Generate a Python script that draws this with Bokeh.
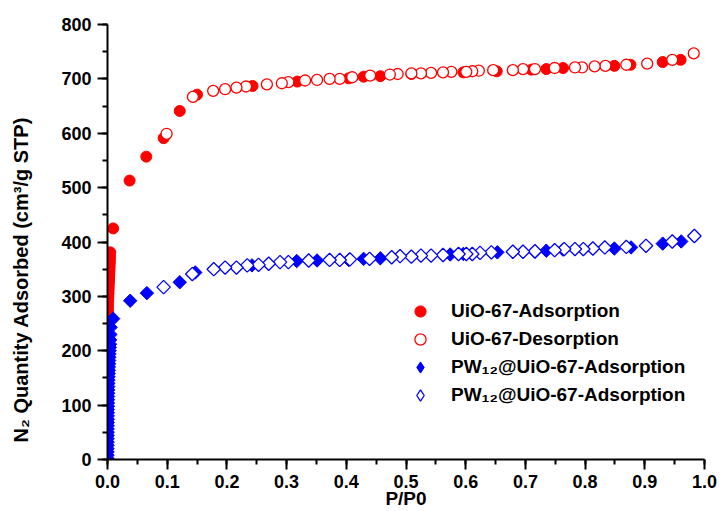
import numpy as np
from bokeh.plotting import figure
from bokeh.models import (Range1d, SingleIntervalTicker, PrintfTickFormatter,
                          Legend, LegendItem, Title)
from bokeh.embed import file_html
from bokeh.resources import INLINE

# ---------------- data ----------------
uio_ads_x = [0.0001, 0.0002, 0.0003, 0.0004, 0.0005, 0.0006, 0.0007, 0.0008,
             0.0009, 0.0010, 0.0012, 0.0014, 0.0016, 0.0018, 0.0020, 0.0022,
             0.0024, 0.0026, 0.0028, 0.0030, 0.0032, 0.0034, 0.0036, 0.0038,
             0.0040, 0.0043, 0.0046, 0.0095, 0.037, 0.065, 0.094,
             0.121, 0.150, 0.243, 0.318, 0.404, 0.429, 0.457, 0.509, 0.596,
             0.652, 0.710, 0.735, 0.763, 0.849, 0.876, 0.930, 0.960]
uio_ads_y = [200, 215, 228, 240, 250, 258, 266, 273,
             280, 287, 293, 299, 305, 311, 316, 322,
             327, 332, 337, 342, 347, 352, 357, 362,
             367, 373, 381, 425, 513, 557, 591,
             641, 671, 687, 695, 701, 704, 705, 709, 712,
             714, 717, 718, 720, 724, 726, 731, 735]

uio_des_x = [0.982, 0.946, 0.904, 0.869, 0.834, 0.816, 0.795, 0.783, 0.749,
             0.716, 0.696, 0.679, 0.646, 0.622, 0.611, 0.601, 0.576, 0.562,
             0.542, 0.525, 0.509, 0.486, 0.473, 0.440, 0.410, 0.389, 0.372,
             0.351, 0.331, 0.303, 0.292, 0.267, 0.232, 0.216, 0.197, 0.177,
             0.143, 0.099]
uio_des_y = [747, 735, 728, 726, 724, 723, 721, 721, 720,
             718, 718, 716, 716, 715, 714, 713, 713, 712,
             711, 710, 710, 709, 708, 706, 703, 700, 700,
             698, 697, 694, 692, 690, 686, 684, 681, 678,
             667, 599]

pw_ads_x = [0.0000, 0.0000, 0.0001, 0.0001, 0.0001, 0.0002, 0.0002, 0.0002,
            0.0003, 0.0003, 0.0004, 0.0004, 0.0005, 0.0005, 0.0006, 0.0006,
            0.0007, 0.0008, 0.0009, 0.0010, 0.0011, 0.0012, 0.0013, 0.0014,
            0.0016, 0.0018, 0.0020, 0.0022, 0.0024, 0.0026, 0.0028, 0.0030,
            0.0033, 0.0036, 0.0039, 0.0042, 0.0045, 0.0048, 0.0052,
            0.0095, 0.038, 0.066, 0.121, 0.147,
            0.242, 0.317, 0.351, 0.404, 0.429, 0.457, 0.574, 0.596, 0.653,
            0.716, 0.735, 0.763, 0.849, 0.877, 0.930, 0.961]
pw_ads_y = [2, 8, 14, 20, 26, 32, 38, 44,
            50, 56, 62, 68, 74, 80, 86, 92,
            98, 104, 110, 116, 122, 128, 134, 140,
            146, 152, 158, 164, 170, 176, 182, 188,
            194, 200, 206, 212, 220, 230, 243,
            259, 292, 306, 326, 344,
            357, 365, 366, 367, 369, 370, 377, 378, 381,
            382, 384, 386, 388, 390, 397, 401]

pw_des_x = [0.983, 0.946, 0.902, 0.869, 0.833, 0.813, 0.797, 0.783, 0.765,
            0.749, 0.716, 0.696, 0.679, 0.643, 0.624, 0.611, 0.601, 0.588,
            0.562, 0.542, 0.525, 0.509, 0.490, 0.476, 0.439, 0.406, 0.389,
            0.372, 0.337, 0.303, 0.289, 0.270, 0.253, 0.234, 0.216, 0.197,
            0.178, 0.142, 0.094]
pw_des_y = [411, 401, 393, 391, 390, 388, 387, 387, 387,
            385, 383, 382, 382, 381, 380, 378, 378, 378,
            376, 375, 375, 373, 374, 372, 369, 368, 367,
            367, 366, 363, 363, 360, 358, 357, 353, 353,
            350, 341, 317]

series_labels = ["UiO-67-Adsorption", "UiO-67-Desorption",
                 "PW\u2081\u2082@UiO-67-Adsorption", "PW\u2081\u2082@UiO-67-Adsorption"]
x_title = "P/P0"
y_title = "N\u2082 Quantity Adsorbed (cm\u00b3/g STP)"
x_tick_interval = 0.1
y_tick_interval = 100

RED = "#FF0000"
BLUE = "#0000FF"
FONT = "Liberation Sans"

p = figure(width=721, height=511, output_backend="svg", toolbar_location=None,
           x_range=Range1d(0, 1), y_range=Range1d(0, 800),
           min_border_left=107, min_border_right=17,
           min_border_top=24, min_border_bottom=52)
p.outline_line_color = None
p.xgrid.visible = False
p.ygrid.visible = False
p.background_fill_color = "white"
p.border_fill_color = "white"

p.xaxis.ticker = SingleIntervalTicker(interval=x_tick_interval, num_minor_ticks=2)
p.yaxis.ticker = SingleIntervalTicker(interval=y_tick_interval, num_minor_ticks=2)
p.xaxis.formatter = PrintfTickFormatter(format="%.1f")

for ax in (p.xaxis, p.yaxis):
    ax.axis_line_width = 2
    ax.axis_line_color = "black"
    ax.major_tick_line_width = 2
    ax.minor_tick_line_width = 2
    ax.major_tick_line_color = "black"
    ax.minor_tick_line_color = "black"
    ax.major_tick_out = 10
    ax.major_tick_in = 0
    ax.minor_tick_out = 5
    ax.minor_tick_in = 0
    ax.major_label_text_font = FONT
    ax.major_label_text_font_style = "bold"
    ax.major_label_text_font_size = "18px"
    ax.major_label_text_color = "black"

p.xaxis.major_label_standoff = 5
p.yaxis.major_label_standoff = 6
p.xaxis.axis_label = x_title
p.xaxis.axis_label_text_font = FONT
p.xaxis.axis_label_text_font_style = "bold"
p.xaxis.axis_label_text_font_size = "19px"
p.xaxis.axis_label_text_color = "black"
p.xaxis.axis_label_standoff = -3

# blank y-axis label only reserves room so the side title sits near the left edge
p.yaxis.axis_label = " "
p.yaxis.axis_label_text_font_size = "19px"
p.yaxis.axis_label_standoff = 3

# y title: a side-panel title, anchored near the bottom of the frame as in the reference
p.add_layout(Title(text=y_title, align="left", offset=17, standoff=0,
                   text_font=FONT, text_font_style="bold", text_font_size="20px",
                   text_color="black"), "left")

r1 = p.scatter(uio_ads_x, uio_ads_y, marker="circle", size=11,
               fill_color=RED, line_color=RED, line_width=1)
r2 = p.scatter(uio_des_x, uio_des_y, marker="circle", size=11,
               fill_color="white", line_color=RED, line_width=1.3)
r3 = p.scatter(pw_ads_x, pw_ads_y, marker="square", angle=np.pi / 4, size=9.5,
               fill_color=BLUE, line_color=BLUE, line_width=1)
r4 = p.scatter(pw_des_x, pw_des_y, marker="square", angle=np.pi / 4, size=9.5,
               fill_color="white", line_color=BLUE, line_width=1.3)

# legend swatches for the diamond series (the legend does not rotate markers);
# they hold a single NaN so nothing is drawn in the plot area
k3 = p.scatter([np.nan], [np.nan], marker="diamond", fill_color=BLUE,
               line_color=BLUE, line_width=1)
k4 = p.scatter([np.nan], [np.nan], marker="diamond", fill_color="white",
               line_color=BLUE, line_width=1.3)

legend = Legend(items=[LegendItem(label=lab, renderers=[r])
                       for lab, r in zip(series_labels, [r1, r2, k3, k4])],
                location=(298, 50), padding=0, margin=0, spacing=0,
                glyph_width=30, glyph_height=28, label_height=28,
                label_standoff=16, border_line_color=None,
                background_fill_alpha=0,
                label_text_font=FONT, label_text_font_style="bold",
                label_text_font_size="19px", label_text_color="black")
p.add_layout(legend)

open("out.html", "w").write(file_html(p, INLINE))
